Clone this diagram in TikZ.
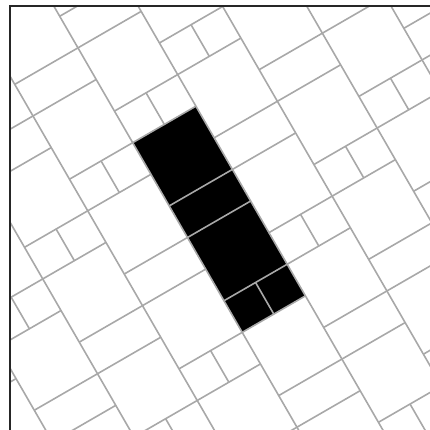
\documentclass[tikz,border=0pt]{standalone}
\usepackage{tikz}
\definecolor{seamgray}{RGB}{168,168,168}
\begin{document}
\begin{tikzpicture}[x=1pt, y=1pt,
		seam/.style={draw=seamgray, line width=1.6pt},
		rim/.style={draw=black!85, line width=1.8pt}]
		\useasboundingbox (0,0) rectangle (430,-430);
		\begin{scope}
			\clip (9.7,-5.7) rectangle (430,-430);
			\begin{scope}[shift={(132.7,-142.7)}, rotate=-60, x=36.5pt, y=36.5pt]
				% black strip
				\fill (0,0) -- (6,0) -- (6,2) -- (0,2) -- cycle;
				% long lines between the columns
				\foreach \c in {-5,...,5}
				\draw[seam] (-10,{2*\c}) -- (16,{2*\c});
				% cross lines and split squares, column by column
				\foreach \c in {-5,...,4}{
					\pgfmathtruncatemacro{\s}{5-\c}
					\foreach \n in {-4,...,2}{
						\foreach \d in {0,1,3,4}
						\draw[seam] ({\s+6*\n+\d},{2*\c}) -- ++(0,2);
						\draw[seam] ({\s+6*\n},{2*\c+1}) -- ++(1,0);
					}
				}
			\end{scope}
		\end{scope}
		\draw[rim] (9.7,-430) -- (9.7,-5.7) -- (430,-5.7);
	\end{tikzpicture}
\end{document}
